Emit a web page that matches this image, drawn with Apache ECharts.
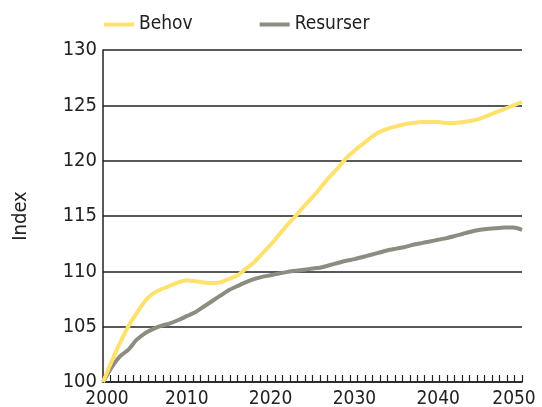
<!DOCTYPE html>
<html>
<head>
<meta charset="utf-8">
<script src="https://cdn.jsdelivr.net/npm/echarts@6/dist/echarts.min.js"></script>
<style>
html,body{margin:0;padding:0;background:#fff;}
#c{width:542px;height:407px;}
</style>
</head>
<body>
<div id="c"></div>
<script>
const years = [];
for (let y = 2000; y <= 2050; y++) years.push(y);
const behov = [100.0,101.8,103.5,105.0,106.2,107.3,108.0,108.4,108.7,109.0,
  109.2,109.1,109.0,108.95,109.0,109.3,109.6,110.2,110.8,111.6,
  112.4,113.3,114.2,115.0,115.9,116.7,117.6,118.5,119.3,120.2,
  120.9,121.5,122.1,122.6,122.9,123.1,123.3,123.4,123.5,123.5,
  123.5,123.4,123.4,123.5,123.6,123.8,124.1,124.4,124.7,125.0,125.3];
const resurser = [100.0,101.3,102.3,102.9,103.8,104.4,104.8,105.1,105.3,105.6,
  105.95,106.3,106.8,107.3,107.8,108.3,108.65,109.0,109.3,109.5,
  109.65,109.8,109.95,110.05,110.15,110.25,110.35,110.55,110.75,110.95,
  111.1,111.3,111.5,111.7,111.9,112.05,112.2,112.4,112.55,112.7,
  112.85,113.0,113.2,113.4,113.6,113.75,113.85,113.9,113.95,113.95,113.75];
const seriesNames = ['Behov', 'Resurser'];
const xTicks = [2000, 2010, 2020, 2030, 2040, 2050];
const yTicks = [100, 105, 110, 115, 120, 125, 130];
const yName = 'Index';

const FONT = "'Liberation Sans Narrow', 'DejaVu Sans Condensed', 'Arial Narrow', sans-serif";
const chart = echarts.init(document.getElementById('c'), null, {renderer: 'canvas'});
const lbl = {fontFamily: FONT, fontSize: 19, color: '#222'};
chart.setOption({
  animation: false,
  backgroundColor: '#fff',
  textStyle: {fontFamily: FONT, color: '#222'},
  legend: {
    data: seriesNames,
    left: 99, top: 10,
    icon: 'rect', itemWidth: 30, itemHeight: 4, itemGap: 67,
    textStyle: {fontFamily: FONT, fontSize: 19, color: '#222'}
  },
  grid: {left: 103, right: 20, top: 50, bottom: 25, containLabel: false, outerBoundsMode: 'none'},
  xAxis: [{
    type: 'value', min: xTicks[0], max: xTicks[xTicks.length-1], interval: 10,
    axisLine: {show: true, lineStyle: {color: '#222', width: 1.5}},
    axisTick: {show: false},
    splitLine: {show: false},
    axisLabel: {fontFamily: FONT, fontSize: 19, color: '#222', margin: 8,
      formatter: v => {
        const i = xTicks.indexOf(v);
        if (i < 0) return '';
        if (i === 0) return '{first|' + v + '}';
        if (i === xTicks.length - 1) return '{last|' + v + '}';
        return '{mid|' + v + '}';
      },
      rich: {
        first: Object.assign({padding: [0, 0, 0, 8]}, lbl),
        mid: Object.assign({}, lbl),
        last: Object.assign({padding: [0, 16, 0, 0]}, lbl)
      }
    }
  }, {
    type: 'value', min: 0, max: 56, interval: 1, position: 'bottom',
    axisLine: {show: false},
    axisTick: {show: true, inside: true, length: 7, lineStyle: {color: '#222', width: 1.2}},
    axisLabel: {show: false},
    splitLine: {show: false}
  }],
  yAxis: {
    type: 'value', min: yTicks[0], max: yTicks[yTicks.length-1], interval: 5,
    name: yName, nameLocation: 'middle', nameGap: 72, nameRotate: 90,
    nameTextStyle: {fontFamily: FONT, fontSize: 20, color: '#222'},
    axisLine: {show: true, lineStyle: {color: '#222', width: 1.5}},
    axisTick: {show: false},
    splitLine: {show: true, lineStyle: {color: '#222', width: 1.5}},
    axisLabel: {fontFamily: FONT, fontSize: 20, color: '#222', margin: 6}
  },
  series: [{
    name: seriesNames[0], type: 'line', xAxisIndex: 0,
    data: years.map((y, i) => [y, behov[i]]),
    showSymbol: false, smooth: 0.2,
    lineStyle: {color: '#FFE16E', width: 4},
    itemStyle: {color: '#FFE16E'},
    z: 3
  }, {
    name: seriesNames[1], type: 'line', xAxisIndex: 0,
    data: years.map((y, i) => [y, resurser[i]]),
    showSymbol: false, smooth: 0.2,
    lineStyle: {color: '#8C8C80', width: 4},
    itemStyle: {color: '#8C8C80'},
    z: 2
  }]
});
</script>
</body>
</html>
